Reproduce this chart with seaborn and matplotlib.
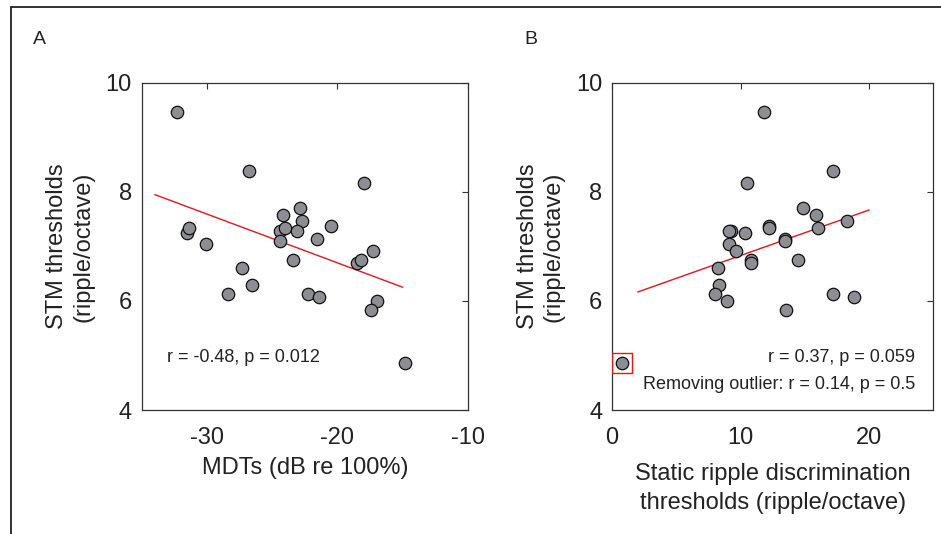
import numpy as np
import pandas as pd
import matplotlib
matplotlib.use("Agg")
import matplotlib.pyplot as plt
import seaborn as sns

# STM thresholds vs MDTs (panel A)
mdt = [-32.3, -26.75, -17.97, -31.53, -31.35, -30.1, -22.88, -24.15, -22.75, -24.4,
       -24.05, -23.13, -20.53, -21.53, -24.4, -23.41, -17.28, -18.5, -18.2, -27.28,
       -26.52, -28.4, -22.27, -21.45, -16.98, -17.4, -14.8]
stm_a = [9.47, 8.38, 8.17, 7.25, 7.33, 7.04, 7.71, 7.58, 7.46, 7.29,
         7.33, 7.28, 7.37, 7.13, 7.10, 6.75, 6.91, 6.70, 6.75, 6.61,
         6.29, 6.12, 6.12, 6.07, 6.0, 5.83, 4.86]

# STM thresholds vs static ripple discrimination thresholds (panel B)
srd = [11.84, 17.23, 10.49, 14.83, 15.87, 18.27, 9.28, 9.12, 10.34, 12.25,
       12.25, 15.99, 13.49, 13.49, 9.09, 9.61, 10.78, 10.78, 14.44, 8.27,
       8.29, 7.98, 8.91, 17.16, 18.86, 13.54, 0.75]
stm_b = [9.47, 8.38, 8.17, 7.71, 7.58, 7.46, 7.29, 7.28, 7.25, 7.37,
         7.33, 7.33, 7.13, 7.10, 7.04, 6.91, 6.75, 6.70, 6.75, 6.61,
         6.29, 6.12, 6.0, 6.12, 6.07, 5.83, 4.86]
outlier = (0.75, 4.86)

fit_range_a = (-34, -15)
fit_range_b = (2, 20)

sns.set_style("white")
plt.rcParams["font.family"] = ["Liberation Sans", "DejaVu Sans"]
plt.rcParams["axes.unicode_minus"] = False

df_a = pd.DataFrame({"x": mdt, "y": stm_a})
df_b = pd.DataFrame({"x": srd, "y": stm_b})

fig = plt.figure(figsize=(9.41, 5.34), dpi=100)
ax_a = fig.add_axes([0.1506, 0.2322, 0.3467, 0.6129])
ax_b = fig.add_axes([0.6504, 0.2322, 0.3414, 0.6129])

# outer frame of the figure panel (runs off the right/bottom edges)
fig.add_artist(plt.Line2D([11 / 941, 1.01], [1 - 7 / 534, 1 - 7 / 534], color="#222222", lw=1.3))
fig.add_artist(plt.Line2D([11 / 941, 11 / 941], [1 - 7 / 534, -0.01], color="#222222", lw=1.3))

dot = dict(s=80, color="#8c8e93", edgecolor="#111111", linewidth=0.9, zorder=3)

for ax, df, rng in [(ax_a, df_a, fit_range_a), (ax_b, df_b, fit_range_b)]:
    sns.scatterplot(data=df, x="x", y="y", ax=ax, **dot)
    k, b = np.polyfit(df["x"], df["y"], 1)
    xs = np.array(rng)
    ax.plot(xs, k * xs + b, color="#e8141b", lw=1.0, zorder=2)
    ax.set_ylim(4, 10)
    ax.set_yticks([4, 6, 8, 10])
    ax.tick_params(direction="in", length=4, width=0.8, top=True, right=True,
                   labelsize=17, colors="#333333", labelcolor="#222222")
    ax.tick_params(axis="x", pad=12)
    ax.tick_params(axis="y", pad=7)
    for sp in ax.spines.values():
        sp.set_color("#333333")
        sp.set_linewidth(0.9)
    ax.set_ylabel("STM thresholds\n(ripple/octave)", fontsize=17, color="#222222",
                  labelpad=8, linespacing=1.25)

ax_a.set_xlim(-35, -10)
ax_a.set_xticks([-30, -20, -10])
ax_a.set_xlabel("MDTs (dB re 100%)", fontsize=17, color="#222222", labelpad=6)
ax_a.text(-33.05, 4.97, "r = -0.48, p = 0.012", fontsize=13, va="center", ha="left", color="#222222")

ax_b.set_xlim(0, 25)
ax_b.set_xticks([0, 10, 20])
ax_b.set_xlabel("Static ripple discrimination\nthresholds (ripple/octave)", fontsize=17,
                color="#222222", labelpad=10, linespacing=1.45)
ax_b.plot([outlier[0]], [outlier[1]], marker="s", ms=14, mfc="none", mec="#e8141b", mew=1.0, zorder=4)
ax_b.text(23.57, 4.97, "r = 0.37, p = 0.059", fontsize=13, va="center", ha="right", color="#222222")
ax_b.text(23.57, 4.47, "Removing outlier: r = 0.14, p = 0.5", fontsize=13, va="center", ha="right", color="#222222")

fig.text(33 / 941, 1 - 40 / 534, "A", fontsize=14, va="center", ha="left", color="#222222")
fig.text(524 / 941, 1 - 40 / 534, "B", fontsize=14, va="center", ha="left", color="#222222")

fig.savefig("out.png", dpi=100)
